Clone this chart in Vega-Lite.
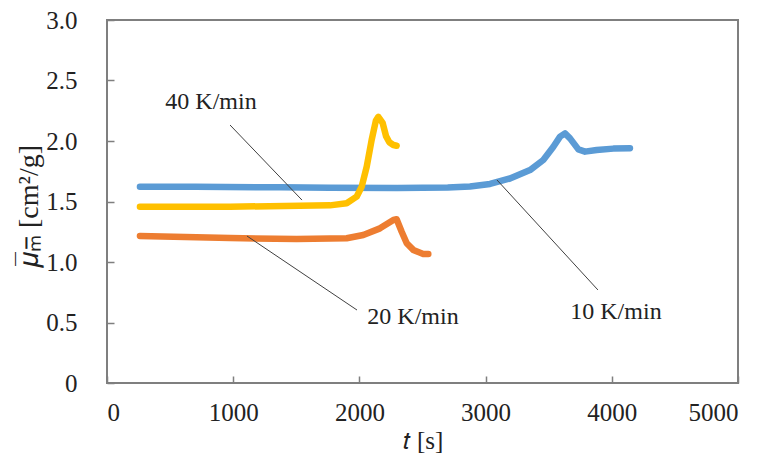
{
  "$schema": "https://vega.github.io/schema/vega-lite/v6.json",
  "width": 631,
  "height": 363,
  "autosize": {"type": "none"},
  "padding": {"left": 107, "top": 20, "right": 30, "bottom": 83},
  "background": "white",
  "config": {
    "font": "Liberation Serif",
    "view": {"stroke": "#7f7f7f", "strokeWidth": 2},
    "axis": {
      "domain": false,
      "grid": false,
      "tickColor": "#7f7f7f",
      "tickWidth": 1.5,
      "tickSize": -7,
      "labelFont": "Liberation Serif",
      "labelFontSize": 25,
      "labelColor": "#222222",
      "titleFont": "Liberation Serif",
      "titleFontSize": 28,
      "titleFontWeight": "normal",
      "titleColor": "#222222"
    }
  },
  "datasets": {
    "curves": [
      {"rate": "10 K/min", "t": 261, "mu": 1.622},
      {"rate": "10 K/min", "t": 700, "mu": 1.622},
      {"rate": "10 K/min", "t": 1371, "mu": 1.617},
      {"rate": "10 K/min", "t": 1767, "mu": 1.614},
      {"rate": "10 K/min", "t": 2300, "mu": 1.611},
      {"rate": "10 K/min", "t": 2700, "mu": 1.615},
      {"rate": "10 K/min", "t": 2876, "mu": 1.624},
      {"rate": "10 K/min", "t": 3035, "mu": 1.645},
      {"rate": "10 K/min", "t": 3193, "mu": 1.69},
      {"rate": "10 K/min", "t": 3352, "mu": 1.76},
      {"rate": "10 K/min", "t": 3457, "mu": 1.843},
      {"rate": "10 K/min", "t": 3537, "mu": 1.953},
      {"rate": "10 K/min", "t": 3590, "mu": 2.036},
      {"rate": "10 K/min", "t": 3629, "mu": 2.063},
      {"rate": "10 K/min", "t": 3669, "mu": 2.022},
      {"rate": "10 K/min", "t": 3735, "mu": 1.931},
      {"rate": "10 K/min", "t": 3788, "mu": 1.912},
      {"rate": "10 K/min", "t": 3880, "mu": 1.926},
      {"rate": "10 K/min", "t": 4012, "mu": 1.937},
      {"rate": "10 K/min", "t": 4144, "mu": 1.94},
      {"rate": "20 K/min", "t": 261, "mu": 1.215},
      {"rate": "20 K/min", "t": 975, "mu": 1.198},
      {"rate": "20 K/min", "t": 1503, "mu": 1.19},
      {"rate": "20 K/min", "t": 1899, "mu": 1.196},
      {"rate": "20 K/min", "t": 2031, "mu": 1.223},
      {"rate": "20 K/min", "t": 2163, "mu": 1.278},
      {"rate": "20 K/min", "t": 2269, "mu": 1.347},
      {"rate": "20 K/min", "t": 2295, "mu": 1.353},
      {"rate": "20 K/min", "t": 2335, "mu": 1.25},
      {"rate": "20 K/min", "t": 2375, "mu": 1.155},
      {"rate": "20 K/min", "t": 2427, "mu": 1.1},
      {"rate": "20 K/min", "t": 2506, "mu": 1.066},
      {"rate": "20 K/min", "t": 2546, "mu": 1.066},
      {"rate": "40 K/min", "t": 261, "mu": 1.457},
      {"rate": "40 K/min", "t": 975, "mu": 1.457},
      {"rate": "40 K/min", "t": 1767, "mu": 1.468},
      {"rate": "40 K/min", "t": 1899, "mu": 1.485},
      {"rate": "40 K/min", "t": 1978, "mu": 1.54},
      {"rate": "40 K/min", "t": 2018, "mu": 1.622},
      {"rate": "40 K/min", "t": 2058, "mu": 1.788},
      {"rate": "40 K/min", "t": 2097, "mu": 2.008},
      {"rate": "40 K/min", "t": 2131, "mu": 2.17},
      {"rate": "40 K/min", "t": 2150, "mu": 2.2},
      {"rate": "40 K/min", "t": 2184, "mu": 2.15},
      {"rate": "40 K/min", "t": 2211, "mu": 2.04},
      {"rate": "40 K/min", "t": 2237, "mu": 1.99},
      {"rate": "40 K/min", "t": 2269, "mu": 1.967},
      {"rate": "40 K/min", "t": 2295, "mu": 1.961}
    ],
    "callouts": [
      {"label": "40 K/min", "tx": 824, "ty": 2.322, "x1": 975, "y1": 2.132, "x2": 1545, "y2": 1.512},
      {"label": "20 K/min", "tx": 2425, "ty": 0.545, "x1": 1109, "y1": 1.215, "x2": 1981, "y2": 0.603},
      {"label": "10 K/min", "tx": 4033, "ty": 0.587, "x1": 3090, "y1": 1.678, "x2": 3890, "y2": 0.769}
    ]
  },
  "layer": [
    {
      "data": {"name": "curves"},
      "mark": {"type": "line", "strokeWidth": 6.5, "strokeCap": "round", "strokeJoin": "round"},
      "encoding": {
        "x": {
          "field": "t",
          "type": "quantitative",
          "scale": {"domain": [0, 5000], "nice": false},
          "axis": {
            "values": [0, 1000, 2000, 3000, 4000, 5000],
            "format": "d",
            "labelPadding": 24,
            "title": "𝑡 [s]",
            "titleFontSize": 25,
            "titlePadding": 3
          }
        },
        "y": {
          "field": "mu",
          "type": "quantitative",
          "scale": {"domain": [0, 3], "nice": false},
          "axis": {
            "values": [0, 0.5, 1, 1.5, 2, 2.5, 3],
            "labelExpr": "datum.value == 0 ? '0' : format(datum.value, '.1f')",
            "labelPadding": 37,
            "title": "𝜇̅ₘ̅   [cm²/g]",
            "titleAngle": -90,
            "titleX": -70,
            "titleY": 186,
            "titleAlign": "center",
            "titleBaseline": "alphabetic"
          }
        },
        "color": {
          "field": "rate",
          "type": "nominal",
          "scale": {"domain": ["10 K/min", "20 K/min", "40 K/min"], "range": ["#5b9bd5", "#ed7d31", "#ffc000"]},
          "legend": null
        }
      }
    },
    {
      "data": {"name": "callouts"},
      "mark": {"type": "rule", "color": "#404040", "strokeWidth": 1},
      "encoding": {
        "x": {"field": "x1", "type": "quantitative"},
        "y": {"field": "y1", "type": "quantitative"},
        "x2": {"field": "x2"},
        "y2": {"field": "y2"}
      }
    },
    {
      "data": {"name": "callouts"},
      "mark": {"type": "text", "font": "Liberation Serif", "fontSize": 24, "color": "#222222", "align": "center", "baseline": "middle"},
      "encoding": {
        "x": {"field": "tx", "type": "quantitative"},
        "y": {"field": "ty", "type": "quantitative"},
        "text": {"field": "label"}
      }
    }
  ]
}
